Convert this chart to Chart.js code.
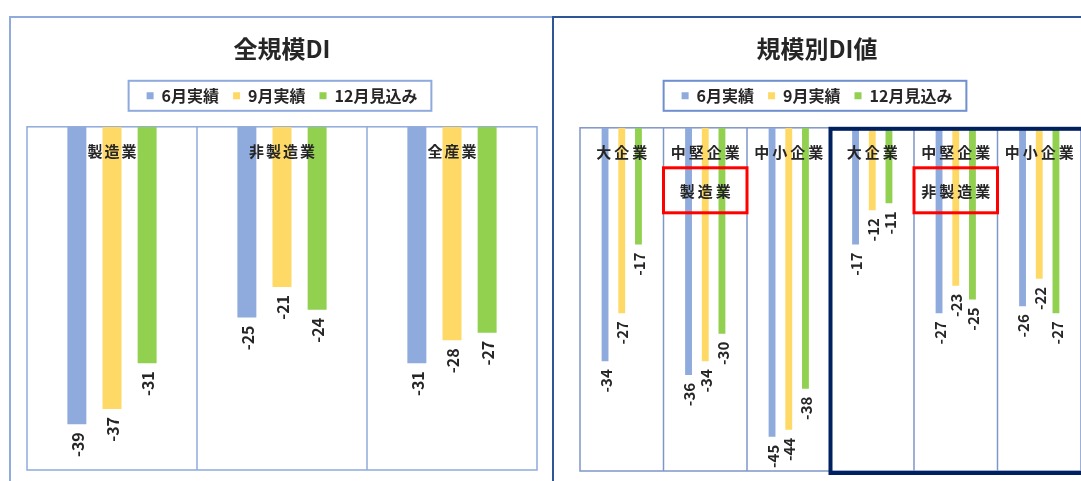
<!DOCTYPE html>
<html lang="ja">
<head>
<meta charset="utf-8">
<script src="https://cdn.jsdelivr.net/npm/chart.js@4.4.1/dist/chart.umd.min.js"></script>
<style>
  html, body { margin:0; padding:0; background:#fff; }
  body { width:1081px; height:481px; overflow:hidden; position:relative; }
  canvas { position:absolute; }
  #left { left:10px; top:17px; }
  #right { left:553px; top:17px; }
  .frame { position:absolute; box-sizing:border-box; pointer-events:none; }
  #leftFrame { left:9px; top:16px; width:545px; height:480px; border:2px solid #8faadc; }
  #rightFrame { left:552px; top:16px; width:540px; height:480px; border:2px solid #2f5597; }
</style>
</head>
<body>
<canvas id="left" width="543" height="464"></canvas>
<canvas id="right" width="528" height="464"></canvas>
<div class="frame" id="leftFrame"></div>
<div class="frame" id="rightFrame"></div>
<script>
/* DI charts: 全規模 / 規模別 */
const seriesNames = ['6月実績', '9月実績', '12月見込み'];
const seriesColors = ['#8FAADC', '#FFD966', '#92D050'];

const leftTitle = '全規模DI';
const leftCategories = ['製造業', '非製造業', '全産業'];
const leftJune = [-39, -25, -31];
const leftSept = [-37, -21, -28];
const leftDec  = [-31, -24, -27];

const rightTitle = '規模別DI値';
const rightCategories = ['大企業', '中堅企業', '中小企業', '大企業', '中堅企業', '中小企業'];
const rightJune = [-34, -36, -45, -17, -27, -26];
const rightSept = [-27, -34, -44, -12, -23, -22];
const rightDec  = [-17, -30, -38, -11, -25, -27];

// group captions (red boxes) and the cell each one sits in
const groupNames = ['製造業', '非製造業'];
const groupCells = [1, 4];

const FONT = '"Noto Sans CJK JP", "Noto Sans", sans-serif';
const INK = '#262626';

const panelDeco = {
  id: 'panelDeco',
  beforeDatasetsDraw(chart, args, o) {
    const { ctx, chartArea: a, scales: { x } } = chart;
    const n = chart.data.labels.length;
    ctx.save();
    ctx.strokeStyle = o.lineColor; ctx.lineWidth = 1.5;
    ctx.strokeRect(a.left, a.top, a.right - a.left, a.bottom - a.top);
    for (let i = 1; i < n; i++) {
      const px = (x.getPixelForValue(i - 1) + x.getPixelForValue(i)) / 2;
      ctx.beginPath(); ctx.moveTo(px, a.top); ctx.lineTo(px, a.bottom); ctx.stroke();
    }
    ctx.restore();
  },
  afterDatasetsDraw(chart, args, o) {
    const { ctx, chartArea: a, scales: { x } } = chart;
    const labels = chart.data.labels;
    const cell = labels.length > 1 ? x.getPixelForValue(1) - x.getPixelForValue(0) : a.right - a.left;
    ctx.save();
    ctx.fillStyle = INK;
    // category names inside the plot, on top of the bars
    ctx.font = `bold ${o.catSize}px ${FONT}`;
    ctx.letterSpacing = o.catSpacing + 'px';
    ctx.textAlign = 'center'; ctx.textBaseline = 'middle';
    labels.forEach((l, i) => ctx.fillText(l, x.getPixelForValue(i) + o.catSpacing / 2, a.top + o.catY));
    // red group boxes
    (o.groups || []).forEach((g, k) => {
      const cx = x.getPixelForValue(groupCells[k]);
      ctx.strokeStyle = '#FF0000'; ctx.lineWidth = 3;
      ctx.strokeRect(cx - cell / 2, a.top + 40, cell, 45);
      ctx.fillText(g, cx + o.catSpacing / 2, a.top + 63);
    });
    // navy frame around the non-manufacturing half
    if (o.frameFrom != null) {
      const fx = x.getPixelForValue(o.frameFrom) - cell / 2;
      ctx.strokeStyle = '#002060'; ctx.lineWidth = 4;
      ctx.strokeRect(fx, a.top + 1, a.right + 20 - fx, a.bottom - a.top + 1);
    }
    // rotated value labels under each bar
    ctx.letterSpacing = '0px';
    ctx.font = `bold ${o.valSize}px ${FONT}`;
    ctx.textAlign = 'right';
    chart.data.datasets.forEach((ds, di) => {
      chart.getDatasetMeta(di).data.forEach((bar, i) => {
        ctx.save();
        ctx.translate(bar.x + 1, bar.y + 8);
        ctx.rotate(-Math.PI / 2);
        ctx.fillText(String(ds.data[i]), 0, 0);
        ctx.restore();
      });
    });
    ctx.restore();
  },
  afterDraw(chart, args, o) {
    const hb = chart.legend.legendHitBoxes;
    if (!hb || !hb.length) return;
    const first = hb[0], last = hb[hb.length - 1];
    const cy = first.top + first.height / 2;
    const { ctx } = chart;
    ctx.save();
    ctx.strokeStyle = o.legendBorder; ctx.lineWidth = 2;
    ctx.strokeRect(first.left - 18, cy - 15, last.left + last.width - first.left + 32, 30);
    ctx.restore();
  }
};

function makeChart(id, c) {
  return new Chart(document.getElementById(id), {
    type: 'bar',
    data: {
      labels: c.labels,
      datasets: seriesNames.map((name, k) => ({
        label: name,
        data: c.series[k],
        backgroundColor: seriesColors[k],
        borderWidth: 0,
        categoryPercentage: c.catPct,
        barPercentage: c.barPct
      }))
    },
    options: {
      responsive: false,
      animation: false,
      layout: { padding: c.padding },
      scales: {
        x: {
          position: 'top',
          ticks: { display: false }, grid: { display: false }, border: { display: false },
          afterFit: s => { s.height = c.topGap; }
        },
        y: {
          min: c.min, max: 0,
          display: c.yWidth > 0,
          ticks: { display: false }, grid: { display: false }, border: { display: false },
          afterFit: s => { s.width = c.yWidth; }
        }
      },
      plugins: {
        title: {
          display: true, text: c.title, color: INK,
          font: { family: FONT, size: 24, weight: 'bold' },
          padding: { top: 17, bottom: 11 }
        },
        legend: {
          labels: {
            boxWidth: 7, boxHeight: 7, padding: 14, color: INK,
            font: { family: FONT, size: 16, weight: 'bold' }
          }
        },
        tooltip: { enabled: false },
        panelDeco: {
          lineColor: c.lineColor, legendBorder: c.legendBorder,
          catSize: 15, catSpacing: c.catSpacing, catY: 24,
          valSize: c.valSize, groups: c.groups, frameFrom: c.frameFrom
        }
      }
    },
    plugins: [panelDeco]
  });
}

makeChart('left', {
  title: leftTitle, labels: leftCategories, series: [leftJune, leftSept, leftDec],
  min: -45, catPct: 0.62, barPct: 0.54,
  padding: { left: 17, right: 16, top: 0, bottom: 11 }, topGap: 13, yWidth: 0,
  lineColor: '#8FAADC', legendBorder: '#8FAADC', catSpacing: 2, valSize: 16
});

makeChart('right', {
  title: rightTitle, labels: rightCategories, series: [rightJune, rightSept, rightDec],
  min: -50, catPct: 0.6, barPct: 0.41,
  padding: { left: -10, right: -10, top: 0, bottom: 10 }, topGap: 14, yWidth: 37,
  lineColor: '#7F96C8', legendBorder: '#6F8FCF', catSpacing: 3, valSize: 15,
  groups: groupNames, frameFrom: 3
});
</script>
</body>
</html>
